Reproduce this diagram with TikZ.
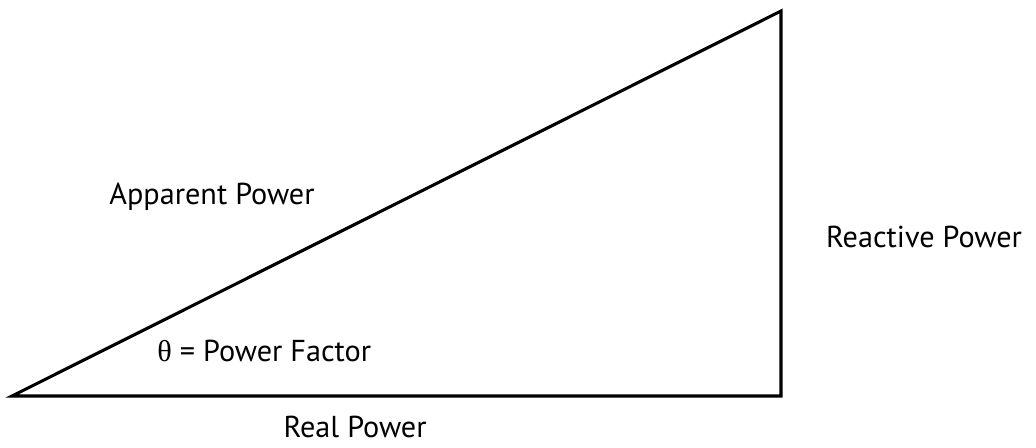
\documentclass[tikz,border=0pt]{standalone}
\usepackage{fontspec}
\setmainfont{PT Sans}
\newfontfamily\greekfont{Liberation Serif}
\usetikzlibrary{positioning}

\begin{document}
\begin{tikzpicture}[x=0.025cm, y=-0.025cm,
      side/.style={line width=2.2pt, line join=miter},
      lbl/.style={font=\fontsize{21.5}{24}\selectfont, inner sep=0pt, anchor=base}]
    \useasboundingbox (0,0) rectangle (1036,447);
    % corners of the power triangle
    \coordinate (O) at (12,396);
    \coordinate (P) at (781,396);
    \coordinate (Q) at (781,11);
    \draw[side] (O) -- (P) -- (Q) -- cycle;
    % side labels
    \node[lbl] (apparent) at (212,204) {Apparent Power};
    \node[lbl] (reactive) at (924,247) {Reactive Power};
    \node[lbl] (real) at (355,437) {Real Power};
    \node[lbl, anchor=base west] (angle) at (157,361) {{\greekfont θ} = Power Factor};
  \end{tikzpicture}
\end{document}
